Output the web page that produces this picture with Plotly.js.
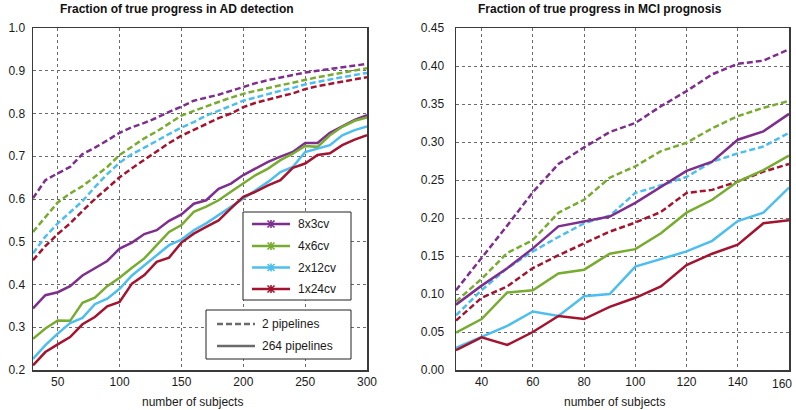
<!DOCTYPE html>
<html>
<head>
<meta charset="utf-8">
<script src="https://cdn.plot.ly/plotly-3.0.1.min.js"></script>
<style>html,body{margin:0;padding:0;background:#fff;}#chart{width:796px;height:410px;}</style>
</head>
<body>
<div id="chart"></div>
<script>
// ---------- data ----------
const seriesNames = ["8x3cv", "4x6cv", "2x12cv", "1x24cv"];
const pipelineNames = ["2 pipelines", "264 pipelines"];
const titleAD = "Fraction of true progress in AD detection";
const titleMCI = "Fraction of true progress in MCI prognosis";
const xTitle = "number of subjects";

const subjectsAD = [30,40,50,60,70,80,90,100,110,120,130,140,150,160,170,180,190,200,210,220,230,240,250,260,270,280,290,300];
const subjectsMCI = [30,40,50,60,70,80,90,100,110,120,130,140,150,160];
const ticksAD_x = [50,100,150,200,250,300];
const ticksMCI_x = [40,60,80,100,120,140];
const lastTickMCI_x = 160;

// AD detection, 2 pipelines (dashed)
const ad2_8x3  = [0.602,0.644,0.660,0.675,0.705,0.720,0.737,0.755,0.768,0.778,0.790,0.804,0.816,0.830,0.837,0.844,0.853,0.862,0.871,0.878,0.884,0.889,0.896,0.900,0.904,0.908,0.912,0.916];
const ad2_4x6  = [0.523,0.557,0.592,0.613,0.630,0.652,0.675,0.703,0.722,0.742,0.758,0.777,0.795,0.806,0.817,0.827,0.837,0.846,0.853,0.860,0.866,0.872,0.879,0.885,0.890,0.895,0.900,0.906];
const ad2_2x12 = [0.473,0.512,0.543,0.570,0.595,0.628,0.658,0.685,0.705,0.720,0.737,0.752,0.767,0.780,0.795,0.806,0.818,0.830,0.838,0.846,0.853,0.860,0.868,0.874,0.880,0.885,0.890,0.895];
const ad2_1x24 = [0.457,0.490,0.518,0.543,0.572,0.600,0.625,0.651,0.672,0.692,0.712,0.731,0.748,0.762,0.776,0.789,0.800,0.815,0.825,0.833,0.840,0.847,0.857,0.864,0.869,0.874,0.879,0.885];
// AD detection, 264 pipelines (solid)
const ad264_8x3  = [0.344,0.375,0.382,0.396,0.421,0.439,0.455,0.484,0.498,0.518,0.527,0.549,0.564,0.589,0.597,0.624,0.636,0.656,0.671,0.687,0.699,0.710,0.731,0.731,0.755,0.771,0.785,0.796];
const ad264_4x6  = [0.273,0.297,0.316,0.315,0.357,0.369,0.396,0.416,0.439,0.461,0.492,0.523,0.539,0.570,0.582,0.597,0.617,0.636,0.656,0.671,0.691,0.706,0.724,0.722,0.749,0.769,0.783,0.791];
const ad264_2x12 = [0.226,0.258,0.285,0.310,0.322,0.354,0.367,0.390,0.421,0.445,0.468,0.492,0.505,0.527,0.543,0.562,0.581,0.601,0.621,0.640,0.663,0.675,0.710,0.718,0.726,0.749,0.761,0.770];
const ad264_1x24 = [0.211,0.242,0.260,0.277,0.307,0.324,0.349,0.359,0.402,0.422,0.453,0.463,0.498,0.519,0.535,0.550,0.578,0.605,0.617,0.632,0.644,0.673,0.683,0.703,0.707,0.726,0.739,0.749];

// MCI prognosis, 2 pipelines (dashed)
const mci2_8x3  = [0.105,0.147,0.190,0.234,0.271,0.293,0.313,0.325,0.347,0.367,0.389,0.403,0.407,0.422];
const mci2_4x6  = [0.090,0.120,0.154,0.171,0.207,0.224,0.253,0.268,0.288,0.299,0.318,0.334,0.345,0.354];
const mci2_2x12 = [0.072,0.105,0.134,0.156,0.175,0.193,0.203,0.233,0.243,0.254,0.274,0.285,0.294,0.312];
const mci2_1x24 = [0.065,0.095,0.110,0.134,0.151,0.166,0.182,0.194,0.208,0.233,0.237,0.248,0.261,0.271];
// MCI prognosis, 264 pipelines (solid)
const mci264_8x3  = [0.086,0.111,0.134,0.160,0.189,0.195,0.202,0.220,0.241,0.262,0.274,0.303,0.314,0.337];
const mci264_4x6  = [0.049,0.067,0.102,0.105,0.127,0.132,0.153,0.159,0.180,0.207,0.224,0.248,0.263,0.282];
const mci264_2x12 = [0.029,0.044,0.058,0.077,0.071,0.097,0.100,0.136,0.146,0.156,0.170,0.196,0.207,0.240];
const mci264_1x24 = [0.026,0.043,0.033,0.050,0.071,0.067,0.083,0.095,0.110,0.138,0.153,0.165,0.193,0.197];

// ---------- styles ----------
const colors = ["#7E2F8E", "#77AC30", "#4DBEEE", "#A2142F"];
const pipeColor = "#6b6b6b";
const LW = 2.5;
const DASH = "6px,3px";
const FONT = "Liberation Sans, Arial, sans-serif";
const TXT = "#1a1a1a";

const ad2 = [ad2_8x3, ad2_4x6, ad2_2x12, ad2_1x24];
const ad264 = [ad264_8x3, ad264_4x6, ad264_2x12, ad264_1x24];
const mci2 = [mci2_8x3, mci2_4x6, mci2_2x12, mci2_1x24];
const mci264 = [mci264_8x3, mci264_4x6, mci264_2x12, mci264_1x24];

const traces = [];
function addLine(x, y, color, dash, xa, ya, name) {
  traces.push({x: x, y: y, type: "scatter", mode: "lines", xaxis: xa, yaxis: ya, name: name,
    line: {color: color, width: LW, dash: dash}, showlegend: false, hoverinfo: "skip"});
}
for (let i = 0; i < 4; i++) addLine(subjectsAD, ad2[i], colors[i], DASH, "x", "y", seriesNames[i] + " " + pipelineNames[0]);
for (let i = 0; i < 4; i++) addLine(subjectsAD, ad264[i], colors[i], "solid", "x", "y", seriesNames[i] + " " + pipelineNames[1]);
for (let i = 0; i < 4; i++) addLine(subjectsMCI, mci2[i], colors[i], DASH, "x2", "y2", seriesNames[i] + " " + pipelineNames[0]);
for (let i = 0; i < 4; i++) addLine(subjectsMCI, mci264[i], colors[i], "solid", "x2", "y2", seriesNames[i] + " " + pipelineNames[1]);

// ---------- pixel helpers for legend boxes (plot area: left 33, right 789, top 28, bottom 370) ----------
const PL = 33, PR = 789, PT = 28, PB = 370;
const px = v => (v - PL) / (PR - PL);
const py = v => (PB - v) / (PB - PT);

const shapes = [];
const annotations = [];
function legendBox(x0, y0, x1, y1) {
  shapes.push({type: "rect", xref: "paper", yref: "paper", x0: px(x0), x1: px(x1), y0: py(y1), y1: py(y0),
    line: {color: "#222222", width: 1}, fillcolor: "#ffffff", layer: "above"});
}
function legendLine(x0, x1, y, color, dash) {
  shapes.push({type: "line", xref: "paper", yref: "paper", x0: px(x0), x1: px(x1), y0: py(y), y1: py(y),
    line: {color: color, width: LW, dash: dash}, layer: "above"});
}
function legendMarker(x, y, color) {
  shapes.push({type: "path", xref: "paper", yref: "paper", xsizemode: "pixel", ysizemode: "pixel",
    xanchor: px(x), yanchor: py(y),
    path: "M0,-4L0,4M-3.5,-3.5L3.5,3.5M-3.5,3.5L3.5,-3.5M-4,0L4,0",
    line: {color: color, width: 1.6}, layer: "above"});
}
function legendText(x, y, text) {
  annotations.push({text: text, xref: "paper", yref: "paper", x: px(x), y: py(y), xanchor: "left", yanchor: "middle",
    showarrow: false, font: {family: FONT, size: 12, color: TXT}});
}
// colour legend
legendBox(243, 212, 351, 300);
const rowY1 = [224, 246, 267.5, 289];
for (let i = 0; i < 4; i++) {
  legendLine(252, 290, rowY1[i], colors[i], "solid");
  legendMarker(271, rowY1[i], colors[i]);
  legendText(296, rowY1[i], seriesNames[i]);
}
// pipeline legend
legendBox(206, 310, 351, 359);
const rowY2 = [324, 346];
const pipeDash = [DASH, "solid"];
for (let i = 0; i < 2; i++) {
  legendLine(217, 255, rowY2[i], pipeColor, pipeDash[i]);
  legendText(260, rowY2[i], pipelineNames[i]);
}
// panel titles
annotations.push({text: "<b>" + titleAD + "</b>", xref: "paper", yref: "paper", x: px(176.5), y: py(9),
  xanchor: "center", yanchor: "middle", showarrow: false, font: {family: FONT, size: 12, color: "#111"}});
annotations.push({text: "<b>" + titleMCI + "</b>", xref: "paper", yref: "paper", x: px(600), y: py(9),
  xanchor: "center", yanchor: "middle", showarrow: false, font: {family: FONT, size: 12, color: "#111"}});
// x-axis titles
annotations.push({text: xTitle, xref: "paper", yref: "paper", x: px(192), y: py(402),
  xanchor: "center", yanchor: "middle", showarrow: false, font: {family: FONT, size: 12, color: TXT}});
annotations.push({text: xTitle, xref: "paper", yref: "paper", x: px(614.5), y: py(402),
  xanchor: "center", yanchor: "middle", showarrow: false, font: {family: FONT, size: 12, color: TXT}});
// last x tick label of MCI panel (kept inside the page like the reference)
annotations.push({text: String(lastTickMCI_x), xref: "x2", yref: "paper", x: lastTickMCI_x, y: py(383.5),
  xanchor: "right", yanchor: "middle", xshift: 5, showarrow: false, font: {family: FONT, size: 12, color: TXT}});

const gridStyle = {showgrid: true, gridcolor: "#6a6a6a", gridwidth: 1, griddash: "dot",
  zeroline: false, showline: true, linecolor: "#3a3a3a", linewidth: 1.5, mirror: true,
  ticks: "", tickfont: {family: FONT, size: 12, color: TXT}};

const layout = {
  width: 796, height: 410,
  margin: {l: 33, r: 7, t: 28, b: 40, pad: 0},
  paper_bgcolor: "#ffffff", plot_bgcolor: "#ffffff",
  showlegend: false,
  font: {family: FONT, size: 12, color: TXT},
  xaxis: Object.assign({}, gridStyle, {domain: [0, px(367)], range: [30, 300], tickmode: "array", tickvals: ticksAD_x}),
  yaxis: Object.assign({}, gridStyle, {range: [0.2, 1.0], dtick: 0.1, tickformat: ".1f", ticklabelstandoff: 4}),
  xaxis2: Object.assign({}, gridStyle, {domain: [px(456), 1], range: [30, 160], tickmode: "array",
    tickvals: ticksMCI_x.concat([lastTickMCI_x]), ticktext: ticksMCI_x.map(String).concat([""]), anchor: "y2"}),
  yaxis2: Object.assign({}, gridStyle, {range: [0, 0.45], dtick: 0.05, tickformat: ".2f", anchor: "x2", ticklabelstandoff: 8}),
  shapes: shapes,
  annotations: annotations
};

Plotly.newPlot("chart", traces, layout, {staticPlot: true, displayModeBar: false});
</script>
</body>
</html>
